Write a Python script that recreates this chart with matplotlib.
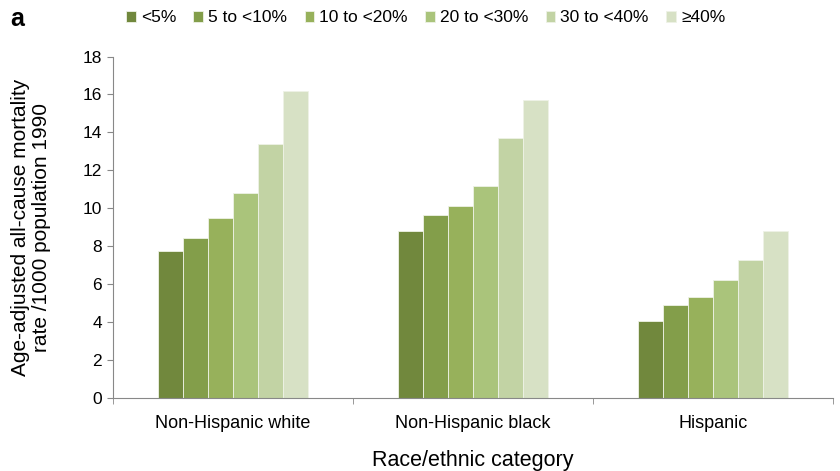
import matplotlib.pyplot as plt
import numpy as np

plt.rcParams['font.family'] = ['Liberation Sans', 'DejaVu Sans']

# Mortality rates by race/ethnicity and poverty level
categories = ['Non-Hispanic white', 'Non-Hispanic black', 'Hispanic']
poverty_levels = ['<5%', '5 to <10%', '10 to <20%', '20 to <30%', '30 to <40%', '\u226540%']
rates = [
    [7.75, 8.8, 4.05],
    [8.42, 9.65, 4.9],
    [9.5, 10.1, 5.3],
    [10.8, 11.15, 6.2],
    [13.37, 13.7, 7.25],
    [16.2, 15.7, 8.8],
]
colors = ['#71883d', '#839e4a', '#97b15b', '#aac47b', '#c2d3a4', '#d7e1c5']

fig = plt.figure(figsize=(8.4, 4.71), dpi=100)
ax = fig.add_axes([0.1345, 0.155, 0.857, 0.725])

x = np.arange(len(categories))
width = 0.104
for i, (lvl, vals) in enumerate(zip(poverty_levels, rates)):
    ax.bar(x + (i - 2.5) * width, vals, width, color=colors[i], label=lvl,
           edgecolor='#eef2e6', linewidth=0.6)

ax.set_xlim(-0.5, 2.5)
ax.set_ylim(0, 18)
ax.set_yticks(range(0, 19, 2))
ax.set_xticks(x)
ax.set_xticklabels(categories, fontsize=13)
ax.tick_params(axis='x', length=0, pad=12)
ax.set_xticks([-0.5, 0.5, 1.5, 2.5], minor=True)
ax.tick_params(axis='x', which='minor', length=4, color='#888888', direction='out')
ax.tick_params(axis='y', labelsize=12.5, length=4, color='#888888', direction='out', pad=4)

for side in ['top', 'right']:
    ax.spines[side].set_visible(False)
for side in ['left', 'bottom']:
    ax.spines[side].set_color('#888888')

ax.set_ylabel('Age-adjusted all-cause mortality\nrate /1000 population 1990', fontsize=15,
              labelpad=23, linespacing=1.08)
ax.set_xlabel('Race/ethnic category', fontsize=15.5, labelpad=13)

fig.legend(*ax.get_legend_handles_labels(), loc='center left',
           bbox_to_anchor=(0.15, 0.962), bbox_transform=fig.transFigure,
           ncol=6, frameon=False, fontsize=12.5, handlelength=0.55, handleheight=0.6,
           handletextpad=0.3, columnspacing=1.0, borderaxespad=0, borderpad=0)

fig.text(0.012, 0.945, 'a', fontsize=18, fontweight='bold')

fig.savefig('out.png', dpi=100)
